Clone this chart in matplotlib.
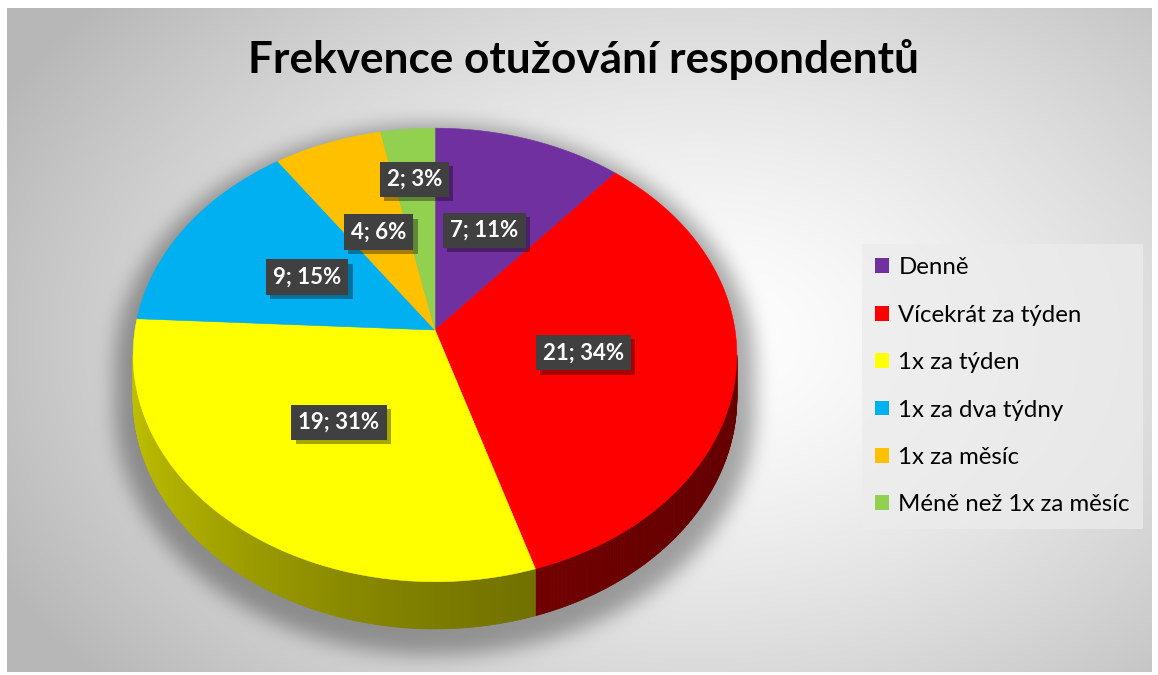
import numpy as np
import matplotlib.pyplot as plt
import matplotlib.patheffects as pe
from matplotlib.patches import Polygon, Patch
from matplotlib.path import Path
from matplotlib.colors import to_rgb

# data
labels = ['Denně', 'Vícekrát za týden', '1x za týden', '1x za dva týdny',
          '1x za měsíc', 'Méně než 1x za měsíc']
counts = [7, 21, 19, 9, 4, 2]
colors = ['#7030A0', '#FF0000', '#FFFF00', '#00B0F0', '#FFC000', '#92D050']
title = 'Frekvence otužování respondentů'

plt.rcParams['font.family'] = ['Lato', 'DejaVu Sans']

W, H = 1158, 675
cx, cy = 435, 330          # pie vertex (pixels)
rx, ry, g = 300, 224, 0.11  # top face size and perspective
depth = 42


def proj(r, phi):
    # phi in degrees, clockwise from 12 o'clock
    u = r * np.sin(np.radians(phi))
    v = r * np.cos(np.radians(phi))
    den = 1 + g * v
    return cx + rx * u / den, cy - ry * v / den


def side_depth(phi):
    return depth / (1 + g * np.cos(np.radians(phi)))


def box_blur(a, r, axis):
    a = np.moveaxis(a, axis, -1)
    p = np.pad(a, [(0, 0), (r + 1, r)], mode='edge')
    c = np.cumsum(p, axis=-1)
    out = (c[:, 2 * r + 1:] - c[:, :-(2 * r + 1)]) / (2 * r + 1)
    return np.moveaxis(out, -1, axis)


fig = plt.figure(figsize=(W / 100, H / 100), dpi=100, facecolor='white')
ax = fig.add_axes([0, 0, 1, 1])
ax.set_xlim(0, W)
ax.set_ylim(H, 0)
ax.axis('off')

# background gradient with soft shadow under the pie
x0, x1, y0, y1 = 7, 1152, 8, 672
xx, yy = np.meshgrid(np.arange(x0, x1) + 0.5, np.arange(y0, y1) + 0.5)
d = np.sqrt(((xx - 700) / 680) ** 2 + ((yy - 340) / 460) ** 2)
bg = 1 - 0.23 * np.clip(d, 0, 1.15) ** 1.4

phi_up = np.linspace(-96.3, 96.3, 240)
phi_low = np.linspace(96.3, 263.7, 240)
ux, uy = proj(1, phi_up)
lx, ly = proj(1, phi_low)
ly = ly + side_depth(phi_low)
sil = Path(np.column_stack([np.r_[ux, lx], np.r_[uy, ly]]))
sx = (xx - cx) / 1.06 + cx
sy = (yy - 14 - 420) / 1.06 + 420
mask = sil.contains_points(np.column_stack([sx.ravel(), sy.ravel()])).reshape(xx.shape).astype(float)
for _ in range(3):
    mask = box_blur(mask, 9, 0)
    mask = box_blur(mask, 9, 1)
bg = bg * (1 - 0.33 * mask)
ax.imshow(np.dstack([bg, bg, bg]), extent=(x0, x1, y1, y0), aspect='auto',
          interpolation='bilinear', zorder=0)

total = sum(counts)
bounds = np.r_[0, np.cumsum(counts)] / total * 360

# side of the pie (visible front part)
for i, col in enumerate(colors):
    a, b = max(bounds[i], 96.3), min(bounds[i + 1], 263.7)
    if b <= a:
        continue
    base = np.array(to_rgb(col))
    ph = np.linspace(a, b, max(int((b - a) * 2), 2))
    for p0, p1 in zip(ph[:-1], ph[1:]):
        xa, ya = proj(1, p0)
        xb, yb = proj(1, p1)
        um = np.sin(np.radians((p0 + p1) / 2))
        f = 0.4 + 0.35 * ((1 - um) / 2) ** 2
        quad = [(xa, ya), (xb, yb), (xb, yb + side_depth(p1)), (xa, ya + side_depth(p0))]
        ax.add_patch(Polygon(quad, closed=True, facecolor=base * f,
                             edgecolor=base * f, linewidth=0.6, zorder=2))

# top face
for i, col in enumerate(colors):
    ph = np.linspace(bounds[i], bounds[i + 1], max(int(bounds[i + 1] - bounds[i]) * 2, 3))
    px, py = proj(1, ph)
    pts = np.column_stack([np.r_[cx, px], np.r_[cy, py]])
    ax.add_patch(Polygon(pts, closed=True, facecolor=col, edgecolor=col,
                         linewidth=0.4, zorder=3))

# data labels
for i in range(len(counts)):
    mid = (bounds[i] + bounds[i + 1]) / 2
    r = 0.73 if counts[i] / total < 0.05 else 0.5
    lx_, ly_ = proj(r, mid)
    txt = f'{counts[i]}; {round(counts[i] / total * 100)}%'
    t = ax.text(lx_, ly_, txt, ha='center', va='center', fontsize=16,
                weight='bold', color='white', zorder=5,
                bbox=dict(boxstyle='square,pad=0.32', facecolor='#404040',
                          edgecolor='none'))
    t.get_bbox_patch().set_path_effects([
        pe.SimplePatchShadow(offset=(3, -3), shadow_rgbFace='black', alpha=0.35),
        pe.Normal()])

ax.text(583, 60, title, ha='center', va='center', fontsize=31.8, weight='bold',
        color='black', zorder=5)

handles = [Patch(facecolor=c, edgecolor='none', label=l) for c, l in zip(colors, labels)]
leg = ax.legend(handles=handles, loc='upper left', bbox_to_anchor=(862, 244),
                bbox_transform=ax.transData, fontsize=17.3, frameon=True,
                fancybox=False, handlelength=0.58, handleheight=0.58,
                handletextpad=0.38, labelspacing=1.1, borderpad=0.55,
                borderaxespad=0)
leg.get_frame().set_facecolor('#ececec')
leg.get_frame().set_alpha(0.75)
leg.get_frame().set_edgecolor('none')
leg.set_zorder(5)

plt.savefig('out.png', dpi=100, facecolor='white')
